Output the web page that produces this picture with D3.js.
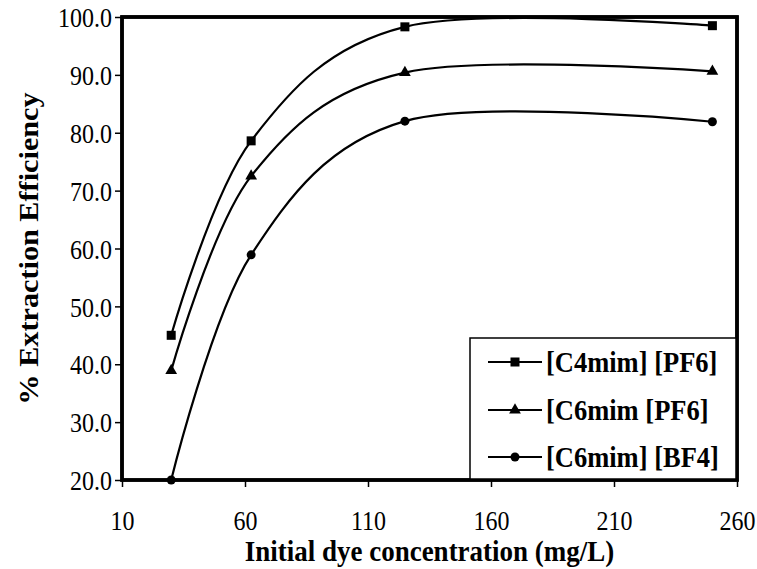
<!DOCTYPE html>
<html>
<head>
<meta charset="utf-8">
<script src="https://cdn.jsdelivr.net/npm/d3@7/dist/d3.min.js"></script>
<style>
  html, body { margin: 0; padding: 0; background: #fff; }
  svg { display: block; }
  text { font-family: "Liberation Serif", "Times New Roman", Times, serif; fill: #000; }
</style>
</head>
<body>
<svg id="chart" width="757" height="569"></svg>
<script>
// ---- data ----
const concentrations = [30, 62.5, 125, 250];
const seriesNames = ["[C4mim] [PF6]", "[C6mim [PF6]", "[C6mim] [BF4]"];
const c4mimPF6 = [45.0, 78.6, 98.3, 98.5];
const c6mimPF6 = [38.9, 72.5, 90.4, 90.6];
const c6mimBF4 = [20.0, 58.9, 82.0, 81.9];
const markerTypes = ["square", "triangle", "circle"];
const xTicks = [10, 60, 110, 160, 210, 260];
const yTicks = [20, 30, 40, 50, 60, 70, 80, 90, 100];
const xTitle = "Initial dye concentration (mg/L)";
const yTitle = "% Extraction Efficiency";

const seriesValues = [c4mimPF6, c6mimPF6, c6mimBF4];

const W = 757, H = 569;
const margin = { left: 122, right: 20, top: 17, bottom: 89 };
const plotW = W - margin.left - margin.right;
const plotH = H - margin.top - margin.bottom;
const stretch = 1.12; // text in the reference is slightly taller than wide

const svg = d3.select("#chart");
const g = svg.append("g").attr("transform", `translate(${margin.left},${margin.top})`);

const x = d3.scaleLinear().domain([10, 260]).range([0, plotW]);
const y = d3.scaleLinear().domain([20, 100]).range([plotH, 0]);

// axes
const xAxis = d3.axisBottom(x).tickValues(xTicks).tickSize(7).tickSizeOuter(0).tickFormat(d3.format("d"));
const yAxis = d3.axisLeft(y).tickValues(yTicks).tickSize(7).tickSizeOuter(0).tickFormat(d3.format(".1f"));

const gx = g.append("g").attr("transform", `translate(0,${plotH})`).call(xAxis);
const gy = g.append("g").call(yAxis);
[gx, gy].forEach(a => {
  a.select(".domain").remove();
  a.attr("font-family", null);
  a.selectAll(".tick line").attr("stroke", "#000").attr("stroke-width", 1.5);
  a.selectAll(".tick text").attr("font-size", 24).attr("fill", "#000");
});
gx.selectAll(".tick text").attr("dy", null).attr("y", 0)
  .attr("transform", `translate(0,50) scale(1,${stretch})`);
gy.selectAll(".tick text").attr("x", 0).attr("dy", "0.36em")
  .attr("transform", `translate(-10,0) scale(1,${stretch})`);

// frame
g.append("rect").attr("x", 0).attr("y", 0).attr("width", plotW).attr("height", plotH)
  .attr("fill", "none").attr("stroke", "#000").attr("stroke-width", 3.5);

// lines
const line = d3.line()
  .x((d, i) => x(concentrations[i]))
  .y(d => y(d))
  .curve(d3.curveCardinal.tension(0));

g.append("clipPath").attr("id", "clip").append("rect")
  .attr("x", 0).attr("y", 0).attr("width", plotW).attr("height", plotH);

function drawMarker(sel, type, cx, cy) {
  if (type === "square") {
    sel.append("rect").attr("x", cx - 4.5).attr("y", cy - 4.5).attr("width", 9).attr("height", 9).attr("fill", "#000");
  } else if (type === "triangle") {
    const s = d3.symbol().type(d3.symbolTriangle).size(60);
    sel.append("path").attr("d", s()).attr("transform", `translate(${cx},${cy})`).attr("fill", "#000");
  } else {
    sel.append("circle").attr("cx", cx).attr("cy", cy).attr("r", 4.5).attr("fill", "#000");
  }
}

seriesValues.forEach((vals, si) => {
  g.append("path").datum(vals).attr("d", line)
    .attr("fill", "none").attr("stroke", "#000").attr("stroke-width", 2.2)
    .attr("clip-path", "url(#clip)");
  vals.forEach((v, i) => drawMarker(g, markerTypes[si], x(concentrations[i]), y(v)));
});

// legend
const legX = 470 - margin.left, legY = 338 - margin.top;
const legW = plotW - legX, legH = plotH - legY;
const leg = g.append("g");
leg.append("rect").attr("x", legX).attr("y", legY).attr("width", legW).attr("height", legH)
  .attr("fill", "#fff").attr("stroke", "#000").attr("stroke-width", 1.5);
const rowY = [362, 410, 457];
seriesNames.forEach((name, si) => {
  const ry = rowY[si] - margin.top;
  leg.append("line").attr("x1", 488 - margin.left).attr("x2", 542 - margin.left)
    .attr("y1", ry).attr("y2", ry).attr("stroke", "#000").attr("stroke-width", 2.2);
  drawMarker(leg, markerTypes[si], 515 - margin.left, ry);
  leg.append("text").attr("transform", `translate(${546 - margin.left},${ry}) scale(1,${stretch})`)
    .attr("dy", "0.34em").attr("font-size", 26.5).attr("font-weight", "bold").text(name);
});
// frame edges over legend
g.append("rect").attr("x", 0).attr("y", 0).attr("width", plotW).attr("height", plotH)
  .attr("fill", "none").attr("stroke", "#000").attr("stroke-width", 3.5);

// titles
svg.append("text").attr("transform", `translate(${margin.left + plotW / 2},561) scale(1,${stretch})`)
  .attr("text-anchor", "middle").attr("font-size", 27).attr("font-weight", "bold").text(xTitle);
svg.append("text").attr("transform", `translate(38,${margin.top + plotH / 2}) scale(1,${stretch}) rotate(-90)`)
  .attr("text-anchor", "middle").attr("font-size", 27).attr("font-weight", "bold").text(yTitle);
</script>
</body>
</html>
